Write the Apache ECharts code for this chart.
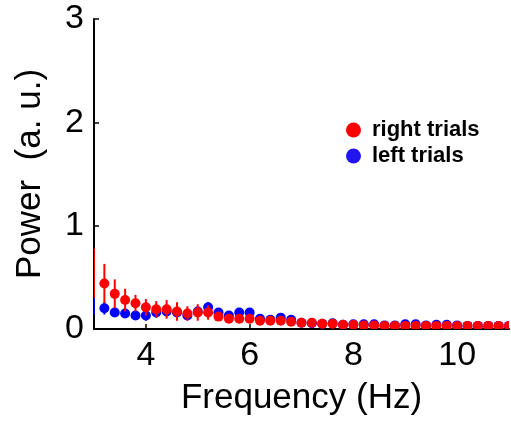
<!DOCTYPE html>
<html>
<head>
<meta charset="utf-8">
<script src="https://cdn.jsdelivr.net/npm/echarts@6/dist/echarts.min.js"></script>
<style>
html, body { margin: 0; padding: 0; background: #fff; }
#main { width: 511px; height: 426px; }
</style>
</head>
<body>
<div id="main"></div>
<script>
// frequency bins (Hz)
var freq = [3.0, 3.2, 3.4, 3.6, 3.8, 4.0, 4.2, 4.4, 4.6, 4.8,
            5.0, 5.2, 5.4, 5.6, 5.8, 6.0, 6.2, 6.4, 6.6, 6.8,
            7.0, 7.2, 7.4, 7.6, 7.8, 8.0, 8.2, 8.4, 8.6, 8.8,
            9.0, 9.2, 9.4, 9.6, 9.8, 10.0, 10.2, 10.4, 10.6, 10.8, 11.0];

var rightMean = [0.54, 0.44, 0.34, 0.28, 0.25, 0.21, 0.19, 0.19, 0.17, 0.15,
                 0.16, 0.16, 0.12, 0.10, 0.10, 0.10, 0.08, 0.08, 0.08, 0.07,
                 0.06, 0.06, 0.05, 0.05, 0.04, 0.04, 0.035, 0.035, 0.03, 0.03,
                 0.03, 0.03, 0.03, 0.03, 0.03, 0.03, 0.03, 0.03, 0.03, 0.03, 0.03];
var rightErr = [0.24, 0.19, 0.14, 0.11, 0.08, 0.08, 0.08, 0.09, 0.09, 0.07,
                0.08, 0.07, 0.04, 0.04, 0.03, 0.03, 0.02, 0.02, 0.02, 0.02,
                0.015, 0.015, 0.01, 0.01, 0.01, 0.01, 0.01, 0.01, 0.01, 0.01,
                0.01, 0.01, 0.01, 0.01, 0.01, 0.01, 0.01, 0.01, 0.01, 0.01, 0.01];

var leftMean = [0.22, 0.20, 0.16, 0.15, 0.13, 0.13, 0.16, 0.17, 0.16, 0.13,
                0.17, 0.21, 0.16, 0.13, 0.16, 0.16, 0.10, 0.09, 0.11, 0.09,
                0.06, 0.055, 0.05, 0.055, 0.04, 0.045, 0.045, 0.045, 0.035, 0.035,
                0.045, 0.045, 0.035, 0.04, 0.04, 0.035, 0.03, 0.03, 0.03, 0.03, 0.03];
var leftErr = [0.08, 0.06, 0.04, 0.04, 0.04, 0.05, 0.05, 0.05, 0.05, 0.04,
               0.05, 0.05, 0.04, 0.03, 0.04, 0.04, 0.03, 0.02, 0.02, 0.02,
               0.015, 0.015, 0.01, 0.01, 0.01, 0.01, 0.01, 0.01, 0.01, 0.01,
               0.01, 0.01, 0.01, 0.01, 0.01, 0.01, 0.01, 0.01, 0.01, 0.01, 0.01];

var xTicks = [4, 6, 8, 10];
var xMin = 3, xMax = 11;

function rows(mean, err) {
    return freq.map(function (f, i) { return [f, mean[i], err[i]]; });
}

function errRenderer(color) {
    return function (params, api) {
        var x = api.value(0), m = api.value(1), e = api.value(2);
        var p = api.coord([x, m]);
        var lo = api.coord([x, m - e]);
        var hi = api.coord([x, m + e]);
        var kids = [
            { type: 'line', shape: { x1: p[0], y1: lo[1], x2: p[0], y2: hi[1] },
              style: { stroke: color, lineWidth: 2 } }
        ];
        // marker sitting on the axis edge is clipped away in the original
        if (x > xMin) {
            kids.push({ type: 'circle', shape: { cx: p[0], cy: p[1], r: 5 },
                        style: { fill: color } });
        }
        return { type: 'group', children: kids };
    };
}

var font = 'Liberation Sans, Arial, Helvetica, sans-serif';

var chart = echarts.init(document.getElementById('main'));
var option = {
    animation: false,
    backgroundColor: '#fff',
    grid: { left: 94, right: 2, top: 19, bottom: 97 },
    legend: {
        orient: 'vertical',
        left: 341,
        top: 114,
        itemGap: 4,
        itemWidth: 15,
        itemHeight: 15,
        icon: 'circle',
        selectedMode: false,
        textStyle: { fontFamily: font, fontSize: 22, fontWeight: 'bold', color: '#000', padding: [0, 0, 0, 6] },
        data: [
            { name: 'right trials', itemStyle: { color: '#ff0000' } },
            { name: 'left trials', itemStyle: { color: '#2215ee' } }
        ]
    },
    xAxis: {
        type: 'value',
        min: xMin,
        max: xMax,
        name: 'Frequency (Hz)',
        nameLocation: 'middle',
        nameGap: 52,
        nameTextStyle: { fontFamily: font, fontSize: 35, color: '#000' },
        axisLine: { show: true, onZero: false, lineStyle: { color: '#000', width: 2 } },
        axisTick: { show: true, inside: true, length: 5, customValues: xTicks, lineStyle: { color: '#000', width: 1.5 } },
        axisLabel: { customValues: xTicks, fontFamily: font, fontSize: 34, color: '#000', margin: 10 },
        splitLine: { show: false }
    },
    yAxis: {
        type: 'value',
        min: 0,
        max: 3,
        interval: 1,
        name: 'Power  (a. u.)',
        nameLocation: 'middle',
        nameGap: 46,
        nameTextStyle: { fontFamily: font, fontSize: 35, color: '#000' },
        axisLine: { show: true, lineStyle: { color: '#000', width: 2 } },
        axisTick: { show: true, inside: true, length: 5, lineStyle: { color: '#000', width: 1.5 } },
        axisLabel: { fontFamily: font, fontSize: 34, color: '#000', margin: 10 },
        splitLine: { show: false }
    },
    series: [
        {
            name: 'left trials',
            type: 'custom',
            clip: true,
            itemStyle: { color: '#0000ff' },
            renderItem: errRenderer('#0000ff'),
            encode: { x: 0, y: 1 },
            data: rows(leftMean, leftErr)
        },
        {
            name: 'right trials',
            type: 'custom',
            clip: true,
            itemStyle: { color: '#ff0000' },
            renderItem: errRenderer('#ff0000'),
            encode: { x: 0, y: 1 },
            data: rows(rightMean, rightErr)
        }
    ]
};
chart.setOption(option);
window.addEventListener('resize', function () { chart.resize(); });
</script>
</body>
</html>
